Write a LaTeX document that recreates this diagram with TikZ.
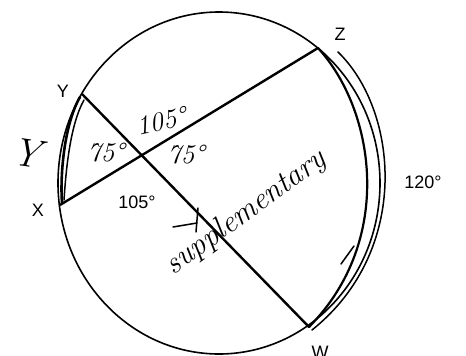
\documentclass[tikz,border=0pt]{standalone}
\usepackage{fontspec}
\setsansfont{Liberation Sans}
\usetikzlibrary{positioning}

\begin{document}
\begin{tikzpicture}[x=1pt, y=-1pt,
  rim/.style={line width=1.6pt},
  chord/.style={line width=2.4pt},
  hand/.style={line width=1.5pt, line cap=round, line join=round},
  lbl/.style={font=\sffamily\fontsize{18}{18}\selectfont, inner sep=0pt},
  note/.style={font=\itshape\fontsize{27}{27}\selectfont, inner sep=0pt}
]
  \useasboundingbox (0,0) rectangle (466,356);

  % circle and points on it
  \coordinate (O) at (219,183);
  \draw[rim] (O) ellipse [x radius=161pt, y radius=171pt];
  \coordinate (Y) at (82,94);
  \coordinate (X) at (60,205);
  \coordinate (Z) at (318,48);
  \coordinate (W) at (309,327);

  \draw[chord] (Y) -- (W);
  \draw[chord] (X) -- (Z);

  \node[lbl] (lY) at (63,91) {Y};
  \node[lbl] (lX) at (38,210) {X};
  \node[lbl] (lZ) at (340,34) {Z};
  \node[lbl] (lW) at (320,352) {W};
  \node[lbl] (a105) at (137,202) {105°};
  \node[lbl] (a120) at (423,182) {120°};

  % hand marks
  \draw[hand, line width=2.6pt] (80,97) .. controls (64,125) and (60,175) .. (62,203);
  \draw[hand] (84,100) .. controls (70,125) and (66,170) .. (64,200);
  \draw[hand, line width=2.2pt] (Z) .. controls (375,110) and (395,240) .. (W);
  \draw[hand] (338,52) .. controls (398,110) and (412,250) .. (312,330);
  \draw[hand] (341,264) -- (354,246);
  \draw[hand] (173,227) -- (197,223);
  \draw[hand] (198,208) -- (196,232);

  \node[note, rotate=-8] (hY) at (27,153) {\fontsize{40}{40}\selectfont Y};
  \node[note] (h75a) at (106,153) {75°};
  \node[note] (h75b) at (186,155) {75°};
  \node[note, rotate=12] (h105) at (161,121) {105°};
  \node[note, rotate=36] (hsup) at (246,213) {\fontsize{31}{31}\selectfont supplementary};
\end{tikzpicture}
\end{document}
